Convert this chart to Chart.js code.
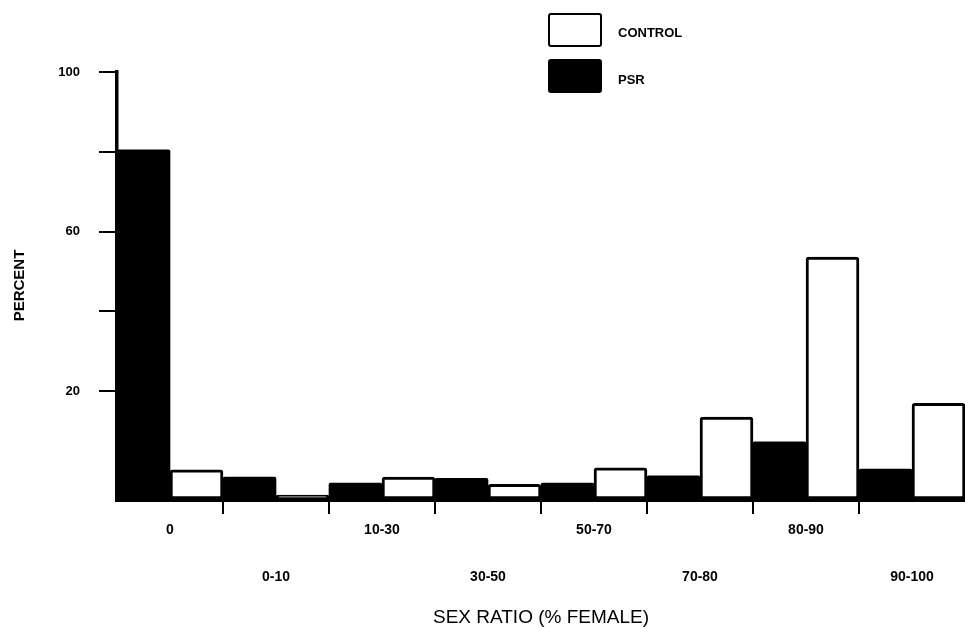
<!DOCTYPE html>
<html lang="en">
  <head>
    <meta charset="UTF-8" />
    <title>Sex ratio - Control vs PSR</title>
    <script src="https://cdn.jsdelivr.net/npm/chart.js"></script>
    <style>
      body { margin: 0; background: #fff; }
      .wrap { position: relative; width: 965px; height: 627px; }
      .legend-box { position: absolute; left: 548px; width: 54px; height: 34px; box-sizing: border-box; border-radius: 3px; }
      .legend-text { position: absolute; left: 618px; font: bold 13px "Liberation Sans", Arial, sans-serif; color: #000; }
    </style>
  </head>
  <body>
    <div class="wrap">
      <canvas id="sexRatioChart" width="965" height="627"></canvas>
      <!-- legend -->
      <div class="legend-box" style="top: 13px; border: 2.5px solid #000; background: #fff"></div>
      <div class="legend-text" style="top: 25px">CONTROL</div>
      <div class="legend-box" style="top: 59px; background: #000"></div>
      <div class="legend-text" style="top: 72px">PSR</div>
    </div>

    <script>
      // data (y in axis units, bars start at the drawn baseline)
      const categories = ["0", "0-10", "10-30", "30-50", "50-70", "70-80", "80-90", "90-100"];
      const psr = [80.5, -1.5, -3.0, -1.8, -3.0, -1.2, 7.3, 0.5];
      const control = [0.3, -6.0, -1.5, -3.3, 0.8, 13.5, 53.6, 17.0];
      const yTicks = [20, 40, 60, 80, 100];
      const yLabels = [20, 60, 100];
      const baseline = -7;

      const font = "'Liberation Sans', Arial, sans-serif";

      new Chart(document.getElementById("sexRatioChart"), {
        type: "bar",
        data: {
          // alternate labels between two rows
          labels: categories.map((c, i) => (i % 2 === 0 ? [c] : ["", c])),
          datasets: [
            {
              label: "PSR",
              data: psr,
              base: baseline,
              backgroundColor: "#000",
              borderWidth: 0,
              borderRadius: 2,
            },
            {
              label: "CONTROL",
              data: control,
              base: baseline,
              backgroundColor: "#fff",
              borderColor: "#000",
              borderWidth: 3,
              borderRadius: 3,
              borderSkipped: false,
            },
          ],
        },
        options: {
          responsive: false,
          animation: false,
          layout: { padding: { top: 72, right: 0, left: 0, bottom: 0 } },
          datasets: { bar: { categoryPercentage: 1, barPercentage: 1 } },
          plugins: { legend: { display: false }, tooltip: { enabled: false } },
          scales: {
            x: {
              afterFit: (s) => { s.height = 128; },
              border: { display: true, color: "#000", width: 5 },
              grid: {
                display: true,
                offset: true,
                drawOnChartArea: false,
                drawTicks: true,
                tickLength: 15,
                lineWidth: 2,
                // no marks at the two ends of the axis
                color: (ctx) => (ctx.index === 0 || ctx.tick === undefined ? "rgba(0,0,0,0)" : "#000"),
              },
              ticks: {
                color: "#000",
                padding: -7.5,
                maxRotation: 0,
                autoSkip: false,
                font: { family: font, size: 14, weight: "bold", lineHeight: "47px" },
              },
              title: {
                display: true,
                text: "SEX RATIO (% FEMALE)",
                color: "#000",
                font: { family: font, size: 19 },
                padding: { top: 0, bottom: -2 },
              },
            },
            y: {
              min: baseline,
              max: 100,
              afterFit: (s) => { s.width = 117; },
              afterBuildTicks: (s) => { s.ticks = yTicks.map((v) => ({ value: v })); },
              border: { display: true, color: "#000", width: 3.5 },
              grid: {
                display: true,
                drawOnChartArea: false,
                drawTicks: true,
                tickLength: 18,
                lineWidth: 2,
                color: "#000",
              },
              ticks: {
                color: "#000",
                padding: 19,
                font: { family: font, size: 13, weight: "bold" },
                callback: (v) => (yLabels.includes(v) ? String(v) : ""),
              },
              title: {
                display: true,
                text: "PERCENT",
                color: "#000",
                font: { family: font, size: 15, weight: "bold" },
                padding: { top: 11, bottom: 0 },
              },
            },
          },
        },
      });
    </script>
  </body>
</html>
